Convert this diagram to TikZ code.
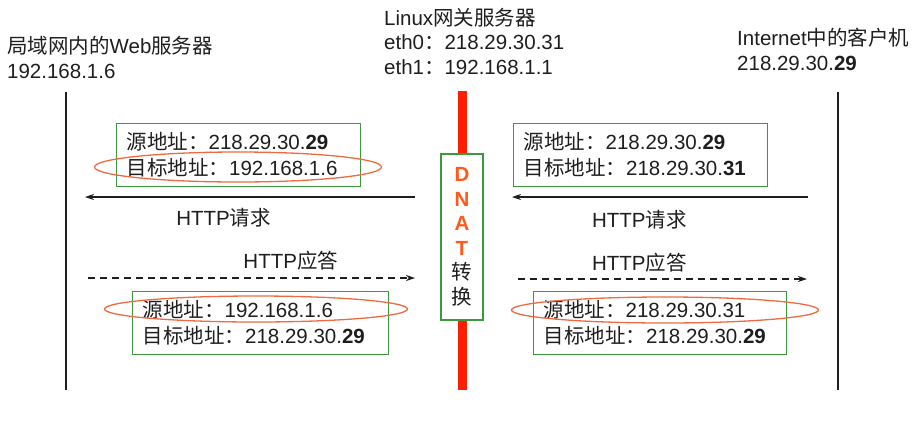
\documentclass[tikz,border=0pt]{standalone}
\usepackage{fontspec}
\setmainfont{Liberation Sans}
\newfontfamily\cjk{Noto Sans CJK SC}
\usepackage{tikz}
\usetikzlibrary{shapes,arrows,positioning,calc,arrows.meta}
\definecolor{boxgreen}{HTML}{3C9A3C}
\definecolor{ringorange}{HTML}{EE6A40}
\definecolor{gwred}{HTML}{FF1E00}
\definecolor{natorange}{HTML}{FF5A1E}
\definecolor{ink}{HTML}{1E1E1E}
\newcommand{\zh}[1]{{\cjk #1}}

\begin{document}
\begin{tikzpicture}[x=1pt, y=-1pt, font=\fontsize{20.5}{24.5}\selectfont, text=ink,
    addr/.style={draw=boxgreen, line width=1.3pt, anchor=north west, align=left, minimum height=63pt, inner xsep=10pt, inner ysep=0pt, font=\fontsize{20.5}{26}\selectfont},
    ring/.style={draw=ringorange, line width=1.3pt, ellipse, inner sep=0pt},
    host/.style={anchor=base west, align=left, inner sep=0pt},
    req/.style={-{Stealth[length=9pt,width=6pt]}, line width=1.3pt, draw=ink},
    resp/.style={req, dash pattern=on 7pt off 5pt},
    life/.style={line width=1.5pt, draw=ink}]
    \useasboundingbox (0,0) rectangle (914,440);

    % Hosts
    \node [host] (srv) at (7,78) {\zh{局域网内的}Web\zh{服务器}\\192.168.1.6};
    \node [host] (gw) at (384,74) {Linux\zh{网关服务器}\\eth0\zh{：}218.29.30.31\\eth1\zh{：}192.168.1.1};
    \node [host] (cli) at (737,70) {Internet\zh{中的客户机}\\218.29.30.\textbf{29}};

    % Life lines
    \coordinate (srvtop) at (66,92);  \coordinate (srvbot) at (66,390);
    \coordinate (clitop) at (838,92); \coordinate (clibot) at (838,390);
    \coordinate (gwtop) at (462,91);  \coordinate (gwbot) at (462,390);
    \draw [life] (srvtop) -- (srvbot);
    \draw [life] (clitop) -- (clibot);
    \draw [gwred, line width=9pt] (gwtop) -- (gwbot);

    % Gateway
    \node [draw=boxgreen, line width=1.3pt, fill=white, minimum width=42pt, minimum height=166pt, inner sep=0pt, align=center] (nat) at (462,237)
        {\textcolor{natorange}{\textbf{D}}\\\textcolor{natorange}{\textbf{N}}\\\textcolor{natorange}{\textbf{A}}\\\textcolor{natorange}{\textbf{T}}\\\zh{转}\\\zh{换}};

    % Packets
    \node [addr, text width=224pt] (reqin) at (116,123) {\zh{源地址：}218.29.30.\textbf{29}\\\zh{目标地址：}192.168.1.6};
    \node [addr, text width=234pt] (reqout) at (513,123) {\zh{源地址：}218.29.30.\textbf{29}\\\zh{目标地址：}218.29.30.\textbf{31}};
    \node [addr, text width=236pt] (respin) at (132,291) {\zh{源地址：}192.168.1.6\\\zh{目标地址：}218.29.30.\textbf{29}};
    \node [addr, text width=233pt] (respout) at (533,291) {\zh{源地址：}218.29.30.31\\\zh{目标地址：}218.29.30.\textbf{29}};

    % Changed fields
    \node [ring, minimum width=287pt, minimum height=30pt] (ring1) at (238,167) {};
    \node [ring, minimum width=303pt, minimum height=26pt] (ring2) at (256,309) {};
    \node [ring, minimum width=307pt, minimum height=26pt] (ring3) at (665,310) {};

    % Requests and replies
    \coordinate (a1s) at (415,197); \coordinate (a1e) at (85,197);
    \coordinate (a2s) at (808,197); \coordinate (a2e) at (512,197);
    \coordinate (a3s) at (88,278);  \coordinate (a3e) at (415,278);
    \coordinate (a4s) at (518,279); \coordinate (a4e) at (807,279);
    \draw [req] (a1s) -- (a1e) node[pos=.58, below=7pt] (req1) {HTTP\zh{请求}};
    \draw [req] (a2s) -- (a2e) node[pos=.57, below=9pt] (req2) {HTTP\zh{请求}};
    \draw [resp] (a3s) -- (a3e) node[pos=.62, above=4pt] (resp1) {HTTP\zh{应答}};
    \draw [resp] (a4s) -- (a4e) node[pos=.42, above=3pt] (resp2) {HTTP\zh{应答}};

\end{tikzpicture}
\end{document}
